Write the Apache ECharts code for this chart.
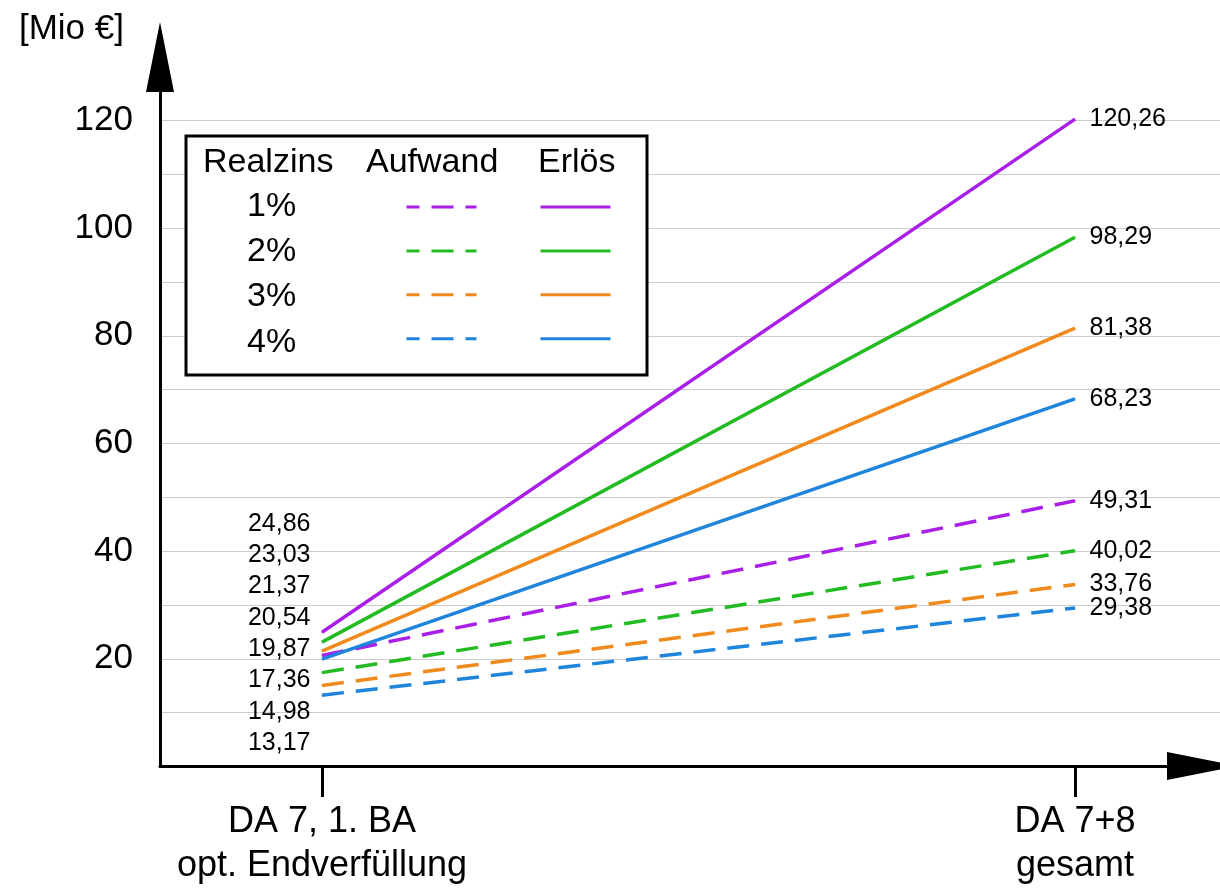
<!DOCTYPE html>
<html><head><meta charset="utf-8">
<script src="https://cdn.jsdelivr.net/npm/echarts@6/dist/echarts.min.js"></script>
<style>html,body{margin:0;padding:0;background:#fff}#c{width:1220px;height:888px}</style>
</head><body><div id="c"></div>
<script>
// ---- data ----
const categories = ['DA 7, 1. BA\nopt. Endverfüllung', 'DA 7+8\ngesamt'];
const rates = ['1%', '2%', '3%', '4%'];
const aufwandStart = [20.54, 17.36, 14.98, 13.17];
const aufwandEnd = [49.31, 40.02, 33.76, 29.38];
const erloesStart = [24.86, 23.03, 21.37, 19.87];
const erloesEnd = [120.26, 98.29, 81.38, 68.23];
const yTickLabels = [20, 40, 60, 80, 100, 120];
const headers = ['Realzins', 'Aufwand', 'Erlös'];
const yUnit = '[Mio €]';

// ---- styles ----
const F = '"Liberation Sans", Arial, Helvetica, sans-serif';
const colors = ['#a91fe8', '#22bb22', '#f08a1c', '#1e84dc'];
const DASH = [22, 12];
const fmt = v => v.toFixed(2).replace('.', ',');

function mk(name, start, end, color, dashed) {
  return {
    name, type: 'line', xAxisIndex: 0, yAxisIndex: 0,
    symbol: 'circle', symbolSize: 1, showSymbol: true, silent: true,
    lineStyle: { color, width: 3.5, type: dashed ? DASH : 'solid' },
    itemStyle: { color },
    label: { show: true, fontSize: 25, color: '#000', fontFamily: F,
      formatter: p => fmt(p.value[1]) },
    data: [
      { value: [0, start], label: { position: 'left', distance: 11 } },
      { value: [1, end], label: { position: 'right', distance: 14 } }
    ]
  };
}

const series = [];
rates.forEach((r, i) => series.push(mk('Aufwand ' + r, aufwandStart[i], aufwandEnd[i], colors[i], true)));
rates.forEach((r, i) => series.push(mk('Erlös ' + r, erloesStart[i], erloesEnd[i], colors[i], false)));

const rowY = [207, 252, 297, 343];
const graphic = [
  { type: 'rect', z: 5, shape: { x: 186, y: 136, width: 461, height: 239 },
    style: { fill: '#fff', stroke: '#000', lineWidth: 3 } },
  { type: 'text', z: 6, x: 203, y: 163, style: { text: headers[0], fontSize: 34, fontFamily: F, fill: '#000', verticalAlign: 'middle' } },
  { type: 'text', z: 6, x: 366, y: 163, style: { text: headers[1], fontSize: 34, fontFamily: F, fill: '#000', verticalAlign: 'middle' } },
  { type: 'text', z: 6, x: 538, y: 163, style: { text: headers[2], fontSize: 34, fontFamily: F, fill: '#000', verticalAlign: 'middle' } }
];
rates.forEach((r, i) => graphic.push({ type: 'text', z: 6, x: 247, y: rowY[i],
  style: { text: r, fontSize: 34, fontFamily: F, fill: '#000', verticalAlign: 'middle' } }));

const legendBase = {
  orient: 'vertical', top: 200, itemWidth: 70, itemHeight: 14, itemGap: 31.3, padding: 0,
  selectedMode: false, z: 10, formatter: () => '', textStyle: { fontSize: 10 },
  itemStyle: { opacity: 0 }, lineStyle: { width: 3, dashOffset: 9 }
};

const option = {
  animation: false,
  backgroundColor: '#fff',
  grid: [
    { left: 160, right: 0, top: 57, bottom: 121.5 },
    { left: 160, right: 0, top: 120.5, bottom: 121.5 }
  ],
  xAxis: [
    { type: 'value', gridIndex: 0, min: -0.21514, max: 1.19256,
      axisLine: { show: true, onZero: false, lineStyle: { color: '#000', width: 3 },
        symbol: ['none', 'triangle'], symbolSize: [28, 70], symbolOffset: [0, -18] },
      axisTick: { show: true, customValues: [0, 1], length: 31, lineStyle: { color: '#000', width: 3 } },
      axisLabel: { show: true, customValues: [0, 1], formatter: v => categories[Math.round(v)] || '',
        fontSize: 36, lineHeight: 44, margin: 34, color: '#000', fontFamily: F },
      splitLine: { show: false } },
    { type: 'value', gridIndex: 1, min: 0, max: 1, show: false }
  ],
  yAxis: [
    { type: 'value', gridIndex: 0, min: 0, max: 131.8,
      name: yUnit, nameLocation: 'end', nameGap: 28,
      nameTextStyle: { fontSize: 35, fontFamily: F, color: '#000', align: 'right', verticalAlign: 'middle', padding: [0, 36, 0, 0] },
      axisLine: { show: true, onZero: false, lineStyle: { color: '#000', width: 3 },
        symbol: ['none', 'triangle'], symbolSize: [28, 70] },
      axisTick: { show: false }, axisLabel: { show: false }, splitLine: { show: false } },
    { type: 'value', gridIndex: 1, min: 0, max: 120, interval: 10,
      axisLine: { show: false, onZero: false }, axisTick: { show: false },
      axisLabel: { show: true, margin: 27, fontSize: 35, fontFamily: F, color: '#000',
        formatter: v => yTickLabels.includes(v) ? String(v) : '' },
      splitLine: { show: true, lineStyle: { color: '#cccccc', width: 1 } } }
  ],
  legend: [
    Object.assign({}, legendBase, { left: 405, data: rates.map(r => 'Aufwand ' + r) }),
    Object.assign({}, legendBase, { left: 539, data: rates.map(r => 'Erlös ' + r) })
  ],
  graphic,
  series
};

const chart = echarts.init(document.getElementById('c'), null, { renderer: 'canvas' });
chart.setOption(option);

// stack the left-hand start labels in a column, ordered by value
const starts = [];
series.forEach((s, si) => starts.push({ si, v: s.data[0].value[1] }));
starts.sort((a, b) => b.v - a.v);
const slotTop = 524, slotStep = 31.3;
starts.forEach((o, k) => {
  const py = chart.convertToPixel({ gridIndex: 0 }, [0, o.v])[1];
  series[o.si].data[0].label.offset = [0, slotTop + k * slotStep - py];
});
chart.setOption({ series });
</script>
</body></html>
